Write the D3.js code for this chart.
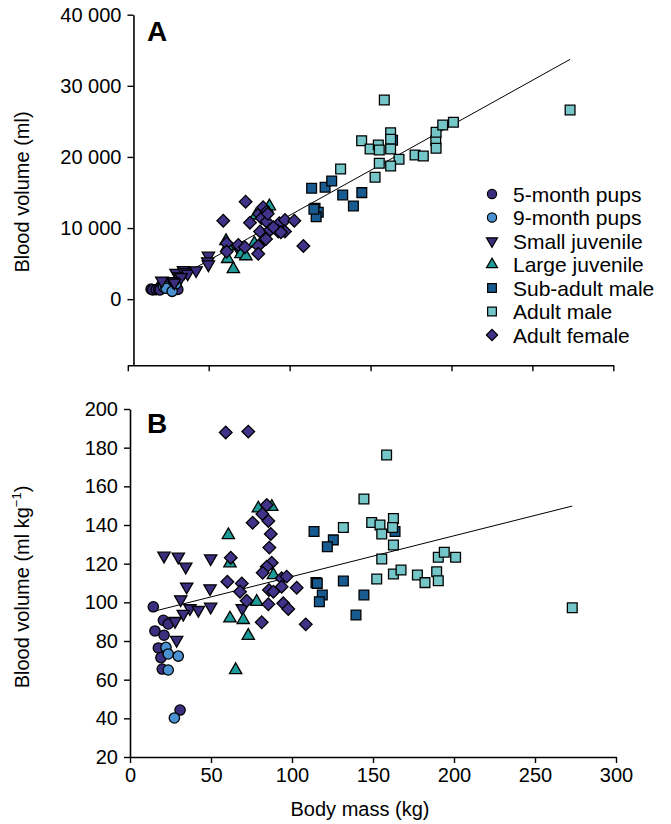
<!DOCTYPE html>
<html>
<head>
<meta charset="utf-8">
<script src="https://cdn.jsdelivr.net/npm/d3@7"></script>
<style>
body { margin: 0; background: #fff; }
svg { display: block; }
text { font-family: "Liberation Sans", Arial, sans-serif; fill: #000; }
</style>
</head>
<body>
<svg id="chart" width="671" height="824"></svg>
<script>
// series info
const seriesNames = ["5-month pups", "9-month pups", "Small juvenile", "Large juvenile",
	"Sub-adult male", "Adult male", "Adult female"];
const seriesColors = ["#3a2e7f", "#4a92d2", "#3a2e7f", "#1c9b98", "#175b91", "#74c6c9", "#3f338a"];
const seriesShapes = ["circle", "circle", "triDown", "triUp", "square", "square", "diamond"];

// panel A : [body mass kg, blood volume ml]
const pups5A = [[14.4,1410],[20.6,1870],[23.6,2100],[15.4,1310],[21,1740],[17.5,1340],[19.1,1360],[19.9,1300],[30.9,1370]];
const pups9A = [[22.2,1700],[23.6,1730],[29.8,2150],[23.6,1530],[27.4,1100]];
const smallJuvA = [[21,2610],[29.8,3680],[34.4,4070],[49.8,6110],[35,3780],[49.4,5300],[31.3,3180],[37,3590],
	[42.2,4050],[49.8,4870],[32.9,3090],[27.8,2510],[28.8,2320],[69.3,6720]];
const largeJuvA = [[60.7,8180],[61.7,7420],[79.2,11770],[87.5,13070],[88.5,10100],[78.2,7840],[61.7,5660],
	[69.9,6350],[73,6040],[65.2,4240]];
const subAdultA = [[113.6,15600],[121.9,15740],[126,16620],[132.8,14650],[144.6,14980],[139.4,13110],
	[115.7,12790],[117.7,12220],[116.4,11600],[163.6,22350],[115,12650]];
const adultMaleA = [[158.5,28000],[131.5,18310],[144.5,22280],[149.7,21120],[154.8,21680],[155.4,20980],
	[162.4,23410],[162.4,22480],[162.4,21120],[167.6,19670],[155.4,19110],[162.4,18730],[152.8,17140],
	[177.5,20270],[182.6,20130],[190.3,22280],[190.5,21220],[190.5,23460],[194.6,24490],[201.2,24870],[273.3,26600]];
const adultFemA = [[72.8,13710],[59,11040],[75.5,10760],[81.1,11990],[83.6,12930],[85.8,12310],[82.7,11380],
	[85.8,10900],[93.6,10680],[97.1,11140],[102.9,11040],[81.7,9500],[87.9,9740],[93,9500],[97.1,9500],
	[84.8,8430],[61.1,7870],[68.3,7630],[72.4,7310],[80.6,7490],[61.1,6690],[80.6,6370],[108.5,7490],
	[86.5,12000],[90,10100],[94.6,9400],[85.4,8450]];

// panel B : [body mass kg, blood volume ml/kg]
const pups5B = [[14.4,97.7],[20.6,90.7],[23.6,88.8],[15.4,85.2],[21,83],[17.5,76.4],[19.1,71.4],[19.9,65.5],[30.9,44.3]];
const pups9B = [[22.2,76.7],[23.6,73.3],[29.8,72.2],[23.6,65],[27.4,40.2]];
const smallJuvB = [[21,124.1],[29.8,123.6],[34.4,118.4],[49.8,122.7],[35,108.1],[49.4,107.2],[31.3,101.5],
	[37,96.9],[42.2,96],[49.8,97.7],[32.9,94],[27.8,90.3],[28.8,80.5],[69.3,96.9]];
const largeJuvB = [[60.7,134.8],[61.7,120.2],[79.2,148.6],[87.5,149.4],[88.5,114.1],[78.2,100.3],[61.7,91.7],
	[69.9,90.9],[73,82.7],[65.2,65]];
const subAdultB = [[113.6,136.6],[125.5,132.3],[121.8,128.8],[163.6,136.6],[114.8,110.2],[115.6,109.8],
	[131.7,111],[118.7,103.8],[116.9,100.3],[144.4,103.8],[139.5,93.4]];
const adultMaleB = [[158.4,176.2],[144.4,153.4],[131.7,138.7],[149.2,141.3],[154.3,140],[162.6,143.4],
	[162.1,138.7],[155.4,135.3],[162.6,129.7],[155.4,122.4],[152.3,112.1],[162.6,114.7],[167.3,116.7],
	[177.4,114.1],[182.1,110.2],[189.3,115.8],[190.3,111.2],[190.3,123.3],[194,125.9],[201,123.3],[273,97.2]];
const adultFemB = [[59.1,187.9],[73,188.3],[84.4,150.3],[81.7,145.7],[85.4,142.1],[75.7,141.2],[86.9,135.4],
	[86,128.3],[62.2,123.1],[87.5,120.5],[84.4,118.4],[81.9,115.3],[60.1,110.7],[69,109.8],[67.9,105.5],
	[93.6,112.4],[96.7,113.3],[85.8,106.4],[88.5,105.5],[72,100.8],[85.4,99],[94.6,99.5],[97.7,96.6],
	[102.9,107.6],[81.3,89.7],[108.5,88.6],[93.6,108.1]];

// trend lines (end points)
const trendA = [[14,900],[273.3,33720]];
const trendB = [[14.4,95.3],[273,149.8]];

// ticks
const massTicks = [0, 50, 100, 150, 200, 250, 300];
const volTicksA = [0, 10000, 20000, 30000, 40000];
const volTicksB = [20, 40, 60, 80, 100, 120, 140, 160, 180, 200];

const dataA = [pups5A, pups9A, smallJuvA, largeJuvA, subAdultA, adultMaleA, adultFemA];
const dataB = [pups5B, pups9B, smallJuvB, largeJuvB, subAdultB, adultMaleB, adultFemB];

const svg = d3.select("#chart");
svg.append("rect").attr("width", 671).attr("height", 824).attr("fill", "#fff");

// scales
const xA = d3.scaleLinear().domain([0, 300]).range([127.8, 613.3]);
const yA = d3.scaleLinear().domain([-9300, 40000]).range([365.3, 14.7]);
const xB = d3.scaleLinear().domain([0, 300]).range([130, 616]);
const yB = d3.scaleLinear().domain([20, 200]).range([757, 409]);

// marker path
function symbolPath(shape, big) {
	const k = big ? 1 : 0.8;
	if (shape == "circle") return d3.symbol(d3.symbolCircle, 84 * k)();
	if (shape == "square") return d3.symbol(d3.symbolSquare, 95 * k)();
	if (shape == "diamond") return d3.symbol(d3.symbolSquare, 80 * k)();
	return d3.symbol(d3.symbolTriangle, 66 * k)();
}
function symbolRot(shape) {
	if (shape == "diamond") return 45;
	if (shape == "triDown") return 180;
	return 0;
}

function styleAxis(g) {
	g.select(".domain").attr("stroke", "#000").attr("stroke-width", 1.6);
	g.selectAll(".tick line").attr("stroke", "#000").attr("stroke-width", 1.4);
	g.selectAll(".tick text").style("font-size", "20px").attr("fill", "#000");
}

function drawPanel(data, trend, sx, sy) {
	// trend line
	svg.append("path")
		.datum(trend)
		.attr("d", d3.line().x(d => sx(d[0])).y(d => sy(d[1])))
		.attr("fill", "none")
		.attr("stroke", "#000")
		.attr("stroke-width", 1);
	data.forEach((arr, i) => {
		svg.append("g").selectAll("path")
			.data(arr)
			.enter()
			.append("path")
			.attr("d", symbolPath(seriesShapes[i], true))
			.attr("transform", d => `translate(${sx(d[0])},${sy(d[1])}) rotate(${symbolRot(seriesShapes[i])})`)
			.attr("fill", seriesColors[i])
			.attr("stroke", "#000")
			.attr("stroke-width", 1.3);
	});
}

// panel A axes
svg.append("g")
	.attr("transform", `translate(0,${yA(-9300)})`)
	.call(d3.axisBottom(xA).tickValues(massTicks).tickFormat("").tickSize(6).tickSizeOuter(0))
	.call(styleAxis);
svg.append("g")
	.attr("transform", `translate(${xA(3.5)},0)`)
	.call(d3.axisLeft(yA).tickValues(volTicksA).tickSize(6).tickSizeOuter(0).tickPadding(6)
		.tickFormat(d => d3.format(",")(d).replace(/,/g, " ")))
	.call(styleAxis);

// panel B axes
svg.append("g")
	.attr("transform", `translate(0,${yB(20)})`)
	.call(d3.axisBottom(xB).tickValues(massTicks).tickSize(6).tickSizeOuter(0).tickPadding(5))
	.call(styleAxis);
svg.append("g")
	.attr("transform", `translate(${xB(0)},0)`)
	.call(d3.axisLeft(yB).tickValues(volTicksB).tickSize(6).tickSizeOuter(0).tickPadding(6))
	.call(styleAxis);

drawPanel(dataA, trendA, xA, yA);
drawPanel(dataB, trendB, xB, yB);

// panel letters
svg.append("text").attr("x", 147).attr("y", 41).text("A")
	.style("font-size", "28px").style("font-weight", "bold");
svg.append("text").attr("x", 147).attr("y", 433).text("B")
	.style("font-size", "28px").style("font-weight", "bold");

// axis titles
svg.append("text")
	.attr("transform", "translate(29,192) rotate(-90)")
	.attr("text-anchor", "middle")
	.style("font-size", "20px")
	.text("Blood volume (ml)");
const tB = svg.append("text")
	.attr("transform", "translate(29,587) rotate(-90)")
	.attr("text-anchor", "middle")
	.style("font-size", "20px");
tB.append("tspan").text("Blood volume (ml kg");
tB.append("tspan").attr("dy", -8).style("font-size", "13px").text("\u22121");
tB.append("tspan").attr("dy", 8).text(")");
svg.append("text")
	.attr("x", 360).attr("y", 816)
	.attr("text-anchor", "middle")
	.style("font-size", "20px")
	.text("Body mass (kg)");

// legend
const legend = svg.append("g").attr("transform", "translate(492,194)");
seriesNames.forEach((name, i) => {
	const row = legend.append("g").attr("transform", `translate(0,${i * 23.5})`);
	row.append("path")
		.attr("d", symbolPath(seriesShapes[i], false))
		.attr("transform", `rotate(${symbolRot(seriesShapes[i])})`)
		.attr("fill", seriesColors[i])
		.attr("stroke", "#000")
		.attr("stroke-width", 1.2);
	row.append("text")
		.attr("x", 21).attr("y", 7.5)
		.style("font-size", "21px")
		.text(name);
});
</script>
</body>
</html>
